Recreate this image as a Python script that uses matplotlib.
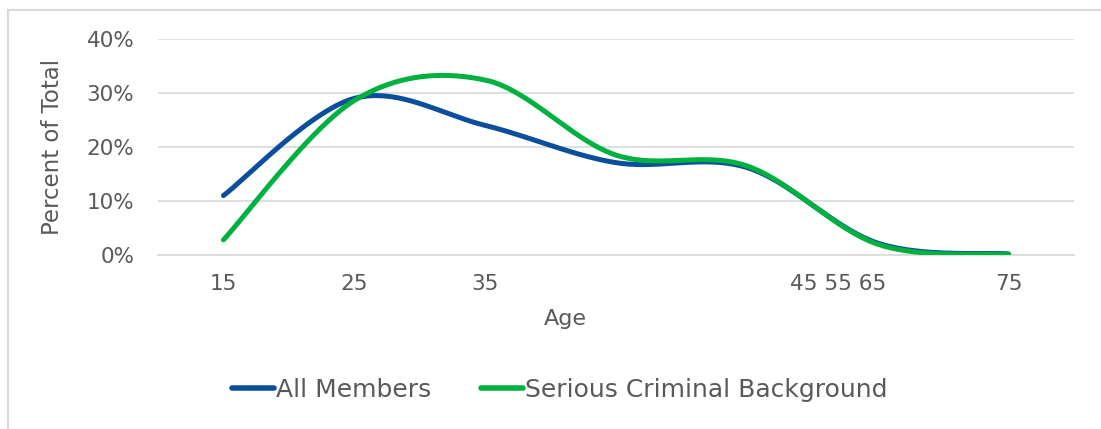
import numpy as np
import matplotlib
matplotlib.use("Agg")
import matplotlib.pyplot as plt
from matplotlib.lines import Line2D

# age groups along the axis (one point per group)
groups = np.arange(7)
tick_pos = [0, 1, 2, 4.7, 6]
tick_labels = ["15", "25", "35", "45 55 65", "75"]

all_members = [11.0, 29.0, 24.0, 17.1, 16.2, 2.2, 0.2]
serious_criminal = [2.8, 28.6, 32.4, 18.5, 16.5, 2.0, 0.1]

blue = "#0b4f9c"
green = "#00b140"
grey_text = "#595959"
grid_col = "#d9d9d9"


def smooth(x, y, n=40):
    # cardinal (Catmull-Rom) spline through every point, like a spreadsheet "smoothed line"
    x = np.asarray(x, float)
    y = np.asarray(y, float)
    px = np.concatenate([[x[0]], x, [x[-1]]])
    py = np.concatenate([[y[0]], y, [y[-1]]])
    xs, ys = [], []
    t = np.linspace(0, 1, n)
    for i in range(1, len(px) - 2):
        x0, x1, x2, x3 = px[i - 1:i + 3]
        y0, y1, y2, y3 = py[i - 1:i + 3]
        c1x, c1y = x1 + (x2 - x0) / 6, y1 + (y2 - y0) / 6
        c2x, c2y = x2 - (x3 - x1) / 6, y2 - (y3 - y1) / 6
        b0 = (1 - t) ** 3
        b1 = 3 * (1 - t) ** 2 * t
        b2 = 3 * (1 - t) * t ** 2
        b3 = t ** 3
        xs.append(b0 * x1 + b1 * c1x + b2 * c2x + b3 * x2)
        ys.append(b0 * y1 + b1 * c1y + b2 * c2y + b3 * y2)
    return np.concatenate(xs), np.concatenate(ys)


plt.rcParams["font.family"] = ["DejaVu Sans"]

fig = plt.figure(figsize=(11.01, 4.29), dpi=100)
ax = fig.add_axes([158 / 1101, 1 - 255 / 429, (1074 - 158) / 1101, (255 - 39) / 429])

bx, by = smooth(groups, all_members)
gx, gy = smooth(groups, serious_criminal)
ax.plot(bx, by, color=blue, lw=3.6, solid_capstyle="round", label="All Members", zorder=3)
ax.plot(gx, gy, color=green, lw=3.6, solid_capstyle="round", label="Serious Criminal Background", zorder=4)

ax.set_xlim(-0.5, 6.5)
ax.set_ylim(0, 40)
ax.set_yticks([0, 10, 20, 30, 40])
ax.set_yticklabels([f"{v}%" for v in [0, 10, 20, 30, 40]])
ax.set_xticks(tick_pos)
ax.set_xticklabels(tick_labels)
ax.tick_params(axis="both", length=0, labelsize=15.5, colors=grey_text)
ax.tick_params(axis="y", pad=17)
ax.tick_params(axis="x", pad=14)

ax.grid(axis="y", color=grid_col, lw=1.2)
ax.grid(axis="x", visible=False)
ax.set_axisbelow(True)
for s in ["top", "right", "left"]:
    ax.spines[s].set_visible(False)
ax.spines["bottom"].set_color(grid_col)
ax.spines["bottom"].set_linewidth(1.2)

fig.text(53 / 1101, 1 - 147 / 429, "Percent of Total", rotation=90, ha="center", va="center",
         fontsize=16.5, color=grey_text)
fig.text(565 / 1101, 1 - 319 / 429, "Age", ha="center", va="center", fontsize=16, color=grey_text)

leg = fig.legend(loc="center", bbox_to_anchor=(560 / 1101, 1 - 390 / 429), ncol=2, frameon=False,
                 fontsize=18, handlelength=1.65, handletextpad=0.1, columnspacing=2.0,
                 labelcolor=grey_text)
for h in leg.get_lines():
    h.set_linewidth(4)

# thin frame on the left and top edges of the chart area
fig.add_artist(Line2D([8 / 1101, 8 / 1101], [0, 1 - 10 / 429], color=grid_col, lw=1.5,
                      transform=fig.transFigure))
fig.add_artist(Line2D([8 / 1101, 1], [1 - 10 / 429, 1 - 10 / 429], color=grid_col, lw=1.5,
                      transform=fig.transFigure))

fig.savefig("out.png", dpi=100, facecolor="white")
